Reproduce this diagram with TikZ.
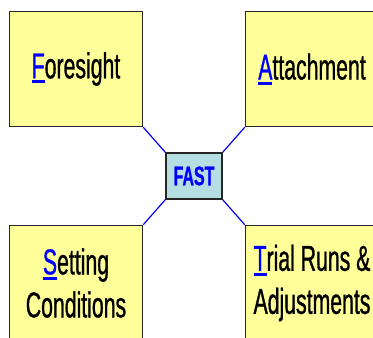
\documentclass[tikz,border=0pt]{standalone}
\usepackage{fontspec}
\setmainfont{Liberation Sans}[FakeStretch=0.59, FakeBold=0.8]
\usetikzlibrary{positioning}

% blue, underlined first letter of each step
\newcommand\initial[1]{\textcolor{blue}{\vtop{\hbox{#1}\kern2pt\hrule height 3pt}}}

\definecolor{boxyellow}{RGB}{255,255,153}
\definecolor{fastblue}{RGB}{180,222,226}

\begin{document}
\begin{tikzpicture}[x=1pt, y=1pt,
                    stepbox/.style={rectangle, draw=black!85, fill=boxyellow, line width=1.5pt,
                                    minimum width=133pt, minimum height=115pt, inner sep=0pt,
                                    align=center, font=\fontsize{36}{43}\selectfont},
                    hubnode/.style={rectangle, draw=black!85, fill=fastblue, line width=1.5pt,
                                    minimum width=56pt, minimum height=46pt, inner sep=0pt,
                                    text=blue, font=\fontsize{27}{27}\selectfont\bfseries},
                    link/.style={draw=blue, line width=1.2pt},
                ]
                    \clip (0,0) rectangle (373,338);

                    %Nodes
                    \node[hubnode](fast) at (194,162) {FAST};
                    \node[stepbox](foresight)[above left=25pt and 22pt of fast] {\initial{F}oresight};
                    \node[stepbox](attach)[above right=25pt and 22pt of fast] {\initial{A}ttachment};
                    \node[stepbox](setting)[below left=25pt and 22pt of fast] {\initial{S}etting\\Conditions};
                    \node[stepbox](trial)[below right=25pt and 22pt of fast] {\initial{T}rial Runs \&\\Adjustments};

                    %Lines
                    \draw[link](foresight.south east) -- (fast.north west);
                    \draw[link](attach.south west) -- (fast.north east);
                    \draw[link](setting.north east) -- (fast.south west);
                    \draw[link](trial.north west) -- (fast.south east);
                \end{tikzpicture}
\end{document}
